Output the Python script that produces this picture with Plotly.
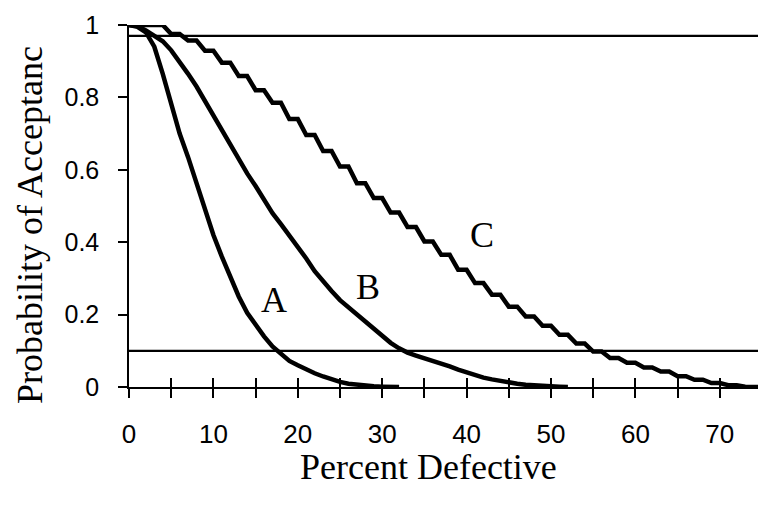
import plotly.graph_objects as go

# ---- data ----
pct_A = list(range(0, 33))
pa_A = [1.0, 0.995, 0.98, 0.94, 0.865, 0.78, 0.70, 0.635, 0.565, 0.49,
        0.42, 0.36, 0.305, 0.25, 0.205, 0.172, 0.14, 0.112, 0.09, 0.072,
        0.06, 0.048, 0.038, 0.029, 0.02, 0.014, 0.009, 0.006, 0.003, 0.002,
        0.001, 0.0, 0.0]

pct_B = list(range(0, 53))
pa_B = [1.0, 0.997, 0.985, 0.97, 0.955, 0.93, 0.9, 0.865, 0.83, 0.79,
        0.75, 0.71, 0.665, 0.63, 0.59, 0.555, 0.515, 0.48, 0.45, 0.42,
        0.385, 0.355, 0.32, 0.29, 0.265, 0.24, 0.22, 0.2, 0.178, 0.158,
        0.14, 0.122, 0.107, 0.095, 0.087, 0.08, 0.072, 0.065, 0.057, 0.048,
        0.04, 0.032, 0.026, 0.021, 0.016, 0.012, 0.009, 0.006, 0.004, 0.003,
        0.002, 0.001, 0.0]

pct_C = list(range(0, 76))
pa_C = [1.0, 1.0, 1.0, 1.0, 1.0, 0.975, 0.975, 0.957, 0.957, 0.929,
        0.929, 0.896, 0.896, 0.859, 0.859, 0.82, 0.82, 0.785, 0.785, 0.74,
        0.74, 0.696, 0.696, 0.652, 0.652, 0.609, 0.609, 0.563, 0.563, 0.522,
        0.522, 0.482, 0.482, 0.442, 0.442, 0.402, 0.402, 0.365, 0.365, 0.324,
        0.324, 0.287, 0.287, 0.255, 0.255, 0.222, 0.222, 0.195, 0.195, 0.169,
        0.169, 0.144, 0.144, 0.12, 0.12, 0.098, 0.098, 0.08, 0.08, 0.067,
        0.067, 0.054, 0.054, 0.043, 0.043, 0.03, 0.03, 0.02, 0.02, 0.011,
        0.011, 0.005, 0.005, 0.001, 0.001, 0.0]

ref_x = [0, 75]
upper_level = [0.97, 0.97]
lower_level = [0.10, 0.10]

curve_labels = ["A", "B", "C"]
label_x = [17.2, 28.3, 41.8]
label_y = [0.24, 0.275, 0.42]

x_tickvals = list(range(0, 80, 5))
x_ticktext = [str(v) if v % 10 == 0 else "" for v in x_tickvals]
y_tickvals = [0, 0.2, 0.4, 0.6, 0.8, 1.0]
y_ticktext = ["0", "0.2", "0.4", "0.6", "0.8", "1"]

x_title = "Percent Defective"
y_title = "Probability of Acceptanc"

# ---- figure ----
fig = go.Figure()
line_style = dict(color="black", width=4.5)
for xs, ys in [(pct_A, pa_A), (pct_B, pa_B), (pct_C, pa_C)]:
    fig.add_trace(go.Scatter(x=xs, y=ys, mode="lines", line=line_style,
                             showlegend=False, hoverinfo="skip"))
for lvl in (upper_level, lower_level):
    fig.add_trace(go.Scatter(x=ref_x, y=lvl, mode="lines",
                             line=dict(color="black", width=2.2),
                             showlegend=False, hoverinfo="skip"))
# invisible trace to activate the overlay axis (upper half of crossing ticks)
fig.add_trace(go.Scatter(x=ref_x, y=[None, None], xaxis="x2", mode="lines",
                         showlegend=False, hoverinfo="skip"))

serif = "Liberation Serif, Times New Roman, serif"
sans = "Liberation Sans, Arial, sans-serif"

for t, lx, ly in zip(curve_labels, label_x, label_y):
    fig.add_annotation(x=lx, y=ly, text=t, showarrow=False,
                       font=dict(family=serif, size=36, color="black"),
                       xanchor="center", yanchor="middle")

fig.add_annotation(text=x_title, xref="paper", yref="paper",
                   x=(428 - 129) / 633, y=(387 - 467) / 362,
                   showarrow=False, xanchor="center", yanchor="middle",
                   font=dict(family=serif, size=36, color="black"))
fig.add_annotation(text=y_title, xref="paper", yref="paper",
                   x=(30 - 129) / 633, y=(387 - 225) / 362, textangle=-90,
                   showarrow=False, xanchor="center", yanchor="middle",
                   font=dict(family=serif, size=36, color="black"))

# page body has an 8px default margin: size the figure so the plot area
# lands at the reference pixel positions
fig.update_layout(
    width=758, height=498,
    margin=dict(l=121, r=4, t=17, b=119),
    paper_bgcolor="white", plot_bgcolor="white",
    xaxis=dict(range=[0, 75], showline=True, linecolor="black", linewidth=1.5,
               ticks="outside", ticklen=9, tickwidth=1.5, tickcolor="black",
               tickvals=x_tickvals, ticktext=x_ticktext,
               tickfont=dict(family=sans, size=26, color="black"),
               ticklabelstandoff=14,
               showgrid=False, zeroline=False, fixedrange=True),
    xaxis2=dict(range=[0, 75], overlaying="x", anchor="y", side="bottom",
                showline=False, ticks="inside", ticklen=9, tickwidth=1.5,
                tickcolor="black", tickvals=x_tickvals, showticklabels=False,
                showgrid=False, zeroline=False, fixedrange=True),
    yaxis=dict(range=[0, 1], showline=True, linecolor="black", linewidth=1.5,
               ticks="outside", ticklen=9, tickwidth=1.5, tickcolor="black",
               tickvals=y_tickvals, ticktext=y_ticktext,
               tickfont=dict(family=sans, size=25, color="black"),
               ticklabelstandoff=14,
               showgrid=False, zeroline=False, fixedrange=True),
)

fig.write_html("out.html")
